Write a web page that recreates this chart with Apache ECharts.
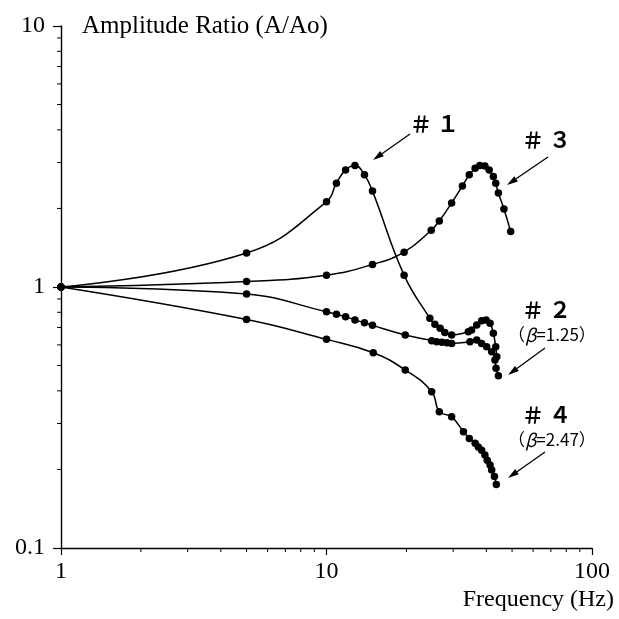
<!DOCTYPE html>
<html>
<head>
<meta charset="utf-8">
<script src="https://cdn.jsdelivr.net/npm/echarts@6/dist/echarts.min.js"></script>
<style>
  html, body { margin: 0; padding: 0; background: #fff; }
  #main { width: 619px; height: 619px; }
</style>
</head>
<body>
<div id="main"></div>
<script>
// Data (frequency in Hz, amplitude ratio A/Ao)
var freq1 = [1, 5, 10, 10.9, 11.8, 12.8, 13.9, 14.9, 19.6, 24.5, 25.6, 26.8, 27.9, 29.6, 34.2, 35.2, 36.8, 38.4, 39.9, 41.3, 42.5, 43.4, 43.8];
var amp1  = [1, 1.35, 2.12, 2.50, 2.81, 2.92, 2.69, 2.33, 1.11, 0.759, 0.72, 0.695, 0.67, 0.655, 0.674, 0.684, 0.715, 0.743, 0.748, 0.726, 0.665, 0.59, 0.541];

var freq2 = [1, 5, 10, 10.9, 11.8, 12.8, 13.9, 14.9, 19.8, 24.9, 26.0, 27.2, 28.4, 29.6, 34.7, 36.8, 38.4, 40.1, 41.9, 43.1, 43.5, 44.4];
var amp2  = [1, 0.94, 0.804, 0.786, 0.77, 0.748, 0.73, 0.713, 0.655, 0.623, 0.617, 0.614, 0.612, 0.608, 0.617, 0.627, 0.608, 0.59, 0.565, 0.525, 0.488, 0.457];

var freq3 = [1, 5, 10, 14.9, 19.6, 24.8, 26.6, 29.6, 32.5, 34.5, 36.3, 37.8, 39.5, 41.0, 42.5, 43.4, 44.4, 46.6, 49.4];
var amp3  = [1, 1.05, 1.11, 1.22, 1.36, 1.65, 1.79, 2.10, 2.44, 2.69, 2.85, 2.92, 2.91, 2.81, 2.65, 2.50, 2.29, 1.99, 1.63];

var freq4 = [1, 5, 10, 15, 19.8, 24.9, 26.6, 29.6, 32.8, 34.5, 36.3, 37.3, 38.4, 39.5, 40.3, 41.3, 41.9, 42.9, 43.6];
var amp4  = [1, 0.751, 0.63, 0.56, 0.481, 0.397, 0.333, 0.318, 0.279, 0.263, 0.252, 0.244, 0.237, 0.227, 0.217, 0.208, 0.199, 0.188, 0.175];

// minor tick values of the log axes
var xMinorTicks = [2, 3, 4, 5, 6, 7, 8, 9, 20, 30, 40, 50, 60, 70, 80, 90];
var yMinorTicks = [0.2, 0.3, 0.4, 0.5, 0.6, 0.7, 0.8, 0.9, 2, 3, 4, 5, 6, 7, 8, 9];

var serif = '"Liberation Serif", "DejaVu Serif", serif';
var gothic = '"Noto Sans CJK JP", "Noto Sans", sans-serif';

function pairs(xs, ys) {
    return xs.map(function (x, i) { return [x, ys[i]]; });
}

function curve(name, xs, ys) {
    return {
        name: name,
        type: 'line',
        data: pairs(xs, ys),
        smooth: 0.45,
        symbol: 'circle',
        symbolSize: 7.5,
        itemStyle: { color: '#000' },
        lineStyle: { color: '#000', width: 1.5 },
        emphasis: { disabled: true },
        z: 3
    };
}

// small outward ticks drawn through the axis scales
function minorTicks(vals, onX) {
    return {
        type: 'custom',
        silent: true,
        clip: false,
        data: vals.map(function (v) { return onX ? [v, 0.1] : [1, v]; }),
        renderItem: function (params, api) {
            var p = api.coord([api.value(0), api.value(1)]);
            var shape = onX
                ? { x1: p[0], y1: p[1], x2: p[0], y2: p[1] + 4 }
                : { x1: p[0] - 4, y1: p[1], x2: p[0], y2: p[1] };
            return { type: 'line', shape: shape, style: { stroke: '#000', lineWidth: 1 } };
        },
        z: 1
    };
}

function arrow(x1, y1, x2, y2) {
    var a = Math.atan2(y2 - y1, x2 - x1);
    var len = 11, half = 3.2;
    var bx = x2 - len * Math.cos(a), by = y2 - len * Math.sin(a);
    return [
        { type: 'line', shape: { x1: x1, y1: y1, x2: bx, y2: by }, style: { stroke: '#000', lineWidth: 1.3 } },
        { type: 'polygon', shape: { points: [[x2, y2],
            [bx - half * Math.sin(a), by + half * Math.cos(a)],
            [bx + half * Math.sin(a), by - half * Math.cos(a)]] }, style: { fill: '#000' } }
    ];
}

function label(text, x, y) {
    return {
        type: 'text',
        style: {
            text: text, x: x, y: y, fill: '#000',
            font: 'bold 22px ' + gothic,
            align: 'left', verticalAlign: 'middle'
        }
    };
}

function beta(text, x, y) {
    return {
        type: 'text',
        style: {
            text: text, x: x, y: y, fill: '#000',
            font: '17px ' + gothic,
            align: 'left', verticalAlign: 'middle',
            rich: { b: { fontStyle: 'italic', fontSize: 18, fontFamily: gothic } }
        }
    };
}

var chart = echarts.init(document.getElementById('main'));

var annotations = [].concat(
    label('＃ １', 410, 124),
    arrow(410, 134, 373, 160),
    label('＃ ３', 522, 140),
    arrow(548, 157, 507, 185),
    label('＃ ２', 522, 310),
    beta('（{b|β}=1.25）', 508, 335),
    arrow(545, 348, 508, 375),
    label('＃ ４', 522, 415),
    beta('（{b|β}=2.47）', 508, 440),
    arrow(545, 452, 508, 478)
);

var option = {
    backgroundColor: '#fff',
    animation: false,
    grid: { left: 61, right: 27, top: 26, bottom: 71 },
    xAxis: {
        type: 'log',
        logBase: 10,
        min: 1,
        max: 100,
        name: 'Frequency (Hz)',
        nameLocation: 'end',
        nameGap: 22,
        nameTextStyle: { fontFamily: serif, fontSize: 24, color: '#000', align: 'right', verticalAlign: 'top', padding: [40, 0, 0, 0] },
        axisLine: { lineStyle: { color: '#000', width: 1.4 } },
        axisTick: { length: 7, lineStyle: { color: '#000', width: 1.2 } },
        axisLabel: { fontFamily: serif, fontSize: 24, color: '#000', margin: 12 },
        splitLine: { show: false }
    },
    yAxis: {
        type: 'log',
        logBase: 10,
        min: 0.1,
        max: 10,
        name: 'Amplitude Ratio (A/Ao)',
        nameLocation: 'end',
        nameGap: 0,
        nameTextStyle: { fontFamily: serif, fontSize: 25, color: '#000', align: 'left', verticalAlign: 'middle', padding: [0, 0, 0, 21] },
        axisLine: { lineStyle: { color: '#000', width: 1.4 } },
        axisTick: { length: 8, lineStyle: { color: '#000', width: 1.2 } },
        axisLabel: { fontFamily: serif, fontSize: 24, color: '#000', margin: 16 },
        splitLine: { show: false }
    },
    series: [
        curve('#1', freq1, amp1),
        curve('#2', freq2, amp2),
        curve('#3', freq3, amp3),
        curve('#4', freq4, amp4),
        minorTicks(xMinorTicks, true),
        minorTicks(yMinorTicks, false)
    ],
    graphic: annotations
};

chart.setOption(option);
</script>
</body>
</html>
